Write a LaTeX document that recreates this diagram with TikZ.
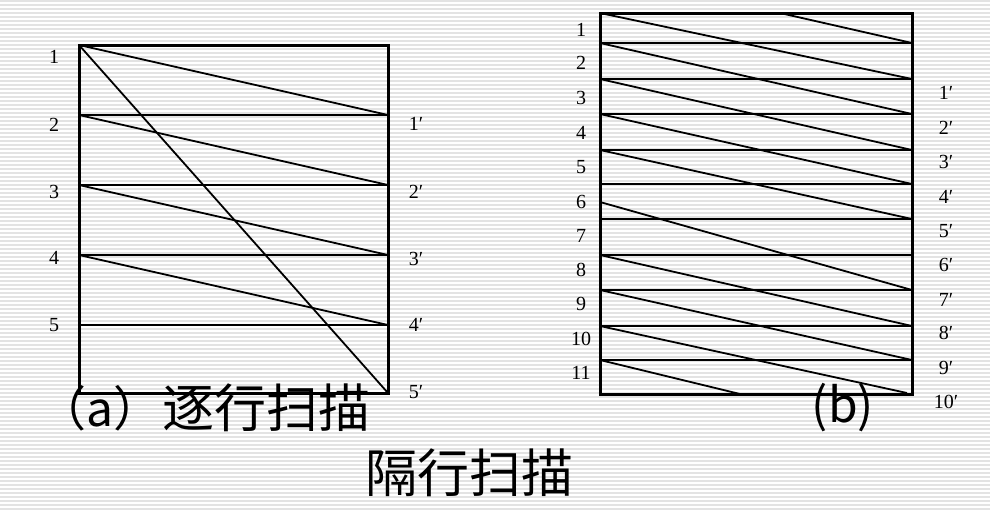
\documentclass[tikz,border=0pt]{standalone}
\usepackage{fontspec}
\setmainfont{Liberation Serif}
\newfontfamily\cjk{Noto Sans CJK SC}
\begin{document}
\begin{tikzpicture}[x=1pt,y=-1pt,
  frame/.style={line width=3pt, line join=miter},
  scan/.style={line width=1.8pt},
  lab/.style={inner sep=0pt, font=\fontsize{20}{24}\selectfont},
  captext/.style={inner sep=0pt, font=\cjk\fontsize{48}{56}\selectfont}]
\useasboundingbox (0,0) rectangle (990,512);
\fill[white] (0,0) rectangle (990,512);
\foreach \k in {0,...,127} {
  \draw[line width=1.6pt, black!11] (0,\k*4+1) -- (990,\k*4+1);
}
% ---------- (a) progressive ----------
\foreach \i/\y in {1/45,2/115,3/185,4/255,5/325,6/393} {
  \coordinate (aL\i) at (79,\y);
  \coordinate (aR\i) at (388,\y);
}
\foreach \i in {2,3,4,5} { \draw[scan] (aL\i) -- (aR\i); }
\draw[scan] (aL1) -- (aR2);
\draw[scan] (aL2) -- (aR3);
\draw[scan] (aL3) -- (aR4);
\draw[scan] (aL4) -- (aR5);
\draw[scan] (aL1) -- (aR6);
\draw[frame] (aL1) rectangle (aR6);
\foreach \t/\y in {1/57,2/125,3/192,4/258,5/325} {
  \node[lab] (al\t) at (54,\y) {\t};
}
\foreach \t/\y in {1/124,2/192,3/259,4/325,5/392} {
  \node[lab] (ar\t) at (416,\y) {\t′};
}
\node[captext, anchor=west] (capa) at (38,408) {（a）};
\node[captext, font=\cjk\fontsize{52}{60}\selectfont] (capa2) at (266,408) {逐行扫描};
% ---------- (b) interlaced ----------
\coordinate (bTL) at (600,13);
\coordinate (bBR) at (912,394);
\foreach \i/\y in {1/43,2/79,3/114,4/150,5/184,6/219,7/255,8/290,9/326,10/360} {
  \coordinate (bL\i) at (600,\y);
  \coordinate (bR\i) at (912,\y);
  \draw[scan] (bL\i) -- (bR\i);
}
\coordinate (bL0) at (600,13);
\coordinate (bM6) at (600,202);
\coordinate (bE10) at (907,393);
\coordinate (bE11) at (740,394);
\coordinate (bT11) at (780,13);
\draw[scan] (bL0) -- (bR2);
\draw[scan] (bL1) -- (bR3);
\draw[scan] (bL2) -- (bR4);
\draw[scan] (bL3) -- (bR5);
\draw[scan] (bL4) -- (bR6);
\draw[scan] (bM6) -- (bR8);
\draw[scan] (bL7) -- (bR9);
\draw[scan] (bL8) -- (bR10);
\draw[scan] (bL9) -- (bE10);
\draw[scan] (bL10) -- (bE11);
\draw[scan] (bT11) -- (bR1);
\draw[frame] (bTL) rectangle (bBR);
\foreach \t/\y in {1/30,2/63,3/98,4/133,5/167,6/202,7/236,8/270,9/304,10/339,11/373} {
  \node[lab] (bl\t) at (581,\y) {\t};
}
\foreach \t/\y in {1/93,2/128,3/162,4/197,5/231,6/265,7/300,8/333,9/368,10/402} {
  \node[lab] (br\t) at (946,\y) {\t′};
}
\node[captext] (capb) at (843,408) {(b)};
\node[captext, font=\cjk\fontsize{52}{60}\selectfont] (capc) at (469,473) {隔行扫描};
\end{tikzpicture}
\end{document}
